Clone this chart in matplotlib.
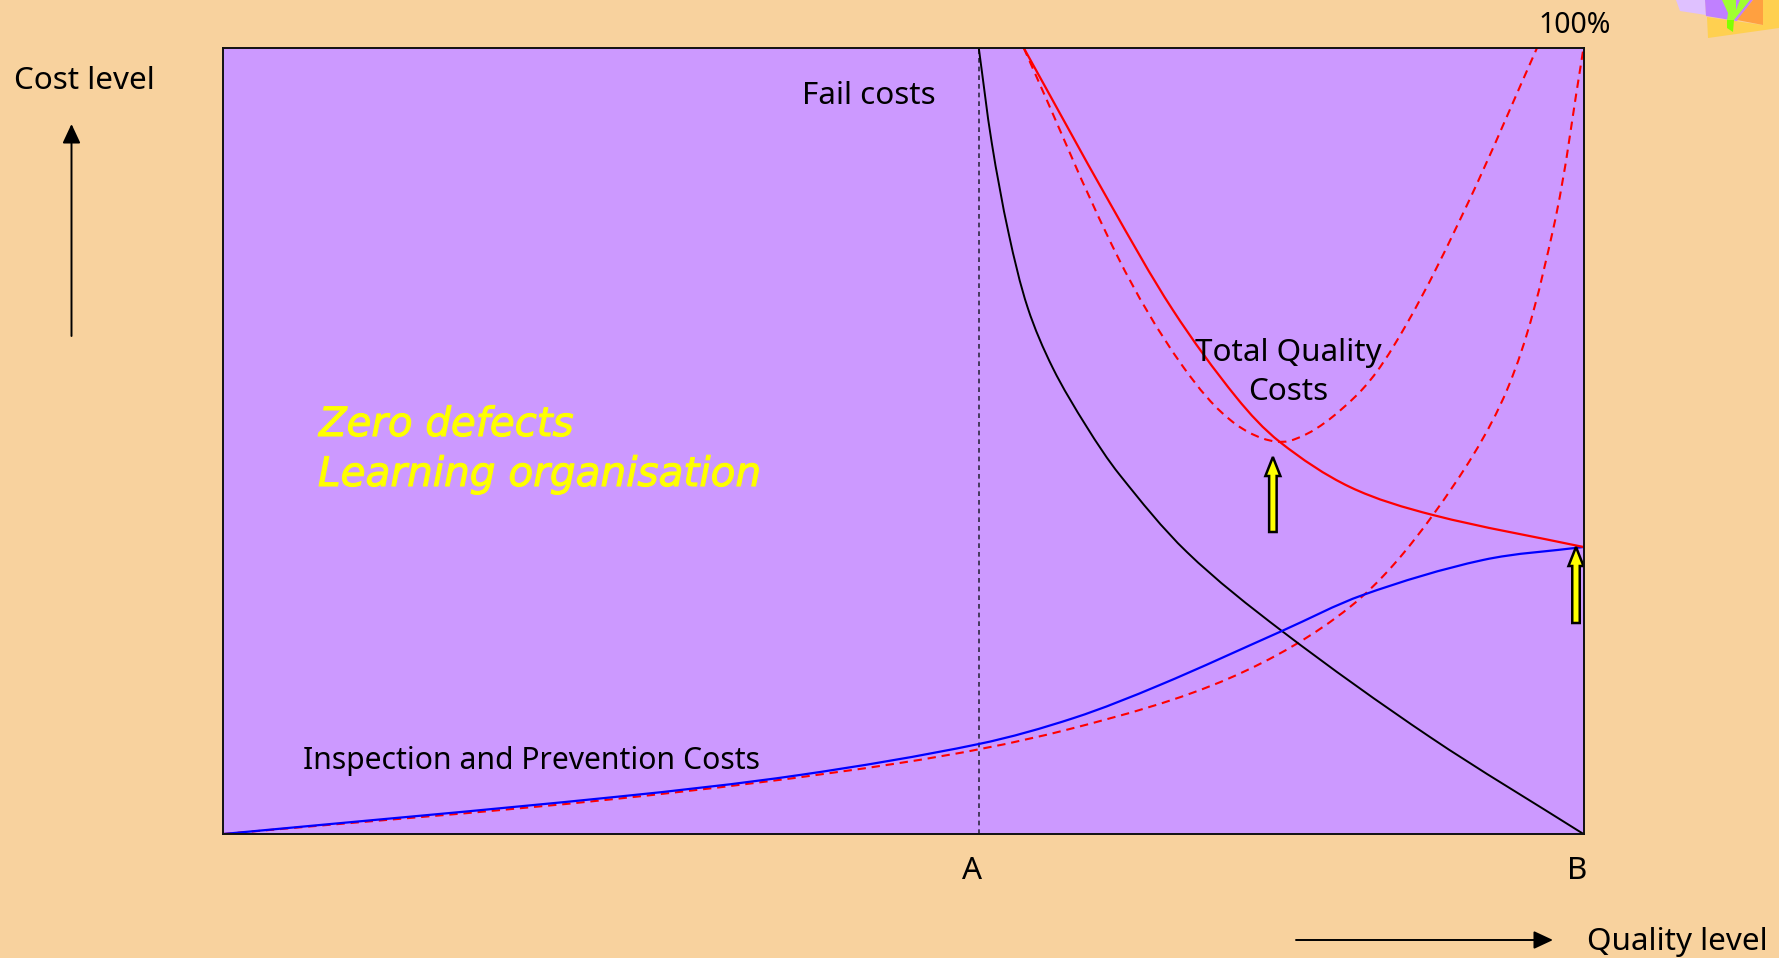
import numpy as np
import matplotlib
matplotlib.use("Agg")
import matplotlib.pyplot as plt
import matplotlib.patheffects as pe
from matplotlib.path import Path
from matplotlib.patches import PathPatch, FancyArrow, Polygon

plt.rcParams["font.family"] = ["Noto Sans", "DejaVu Sans"]

PAGE = "#F8D29E"
PLOT = "#CC99FF"

# Cost curves: quality level on x, cost level on y (arbitrary units)
fail_x = [755, 768, 785, 804, 829, 863, 896, 963, 1058, 1206, 1359.5]
fail_y = [786, 691, 600, 526, 466, 407, 359, 282, 203, 97, 0]

total_x = [800, 886, 949, 1013, 1056, 1126, 1209, 1359.5]
total_y = [786, 631, 524, 436, 392, 347, 319, 287]

old_total_x = [800, 894, 958, 1013, 1065, 1133, 1181, 1244, 1313]
old_total_y = [786, 577, 469, 409, 393, 439, 507, 631, 786]

old_inspection_x = [0, 391, 676, 846, 1006, 1126, 1209, 1283, 1329, 1359.5]
old_inspection_y = [0, 35, 71, 105, 156, 227, 319, 444, 604, 786]

inspection_x = [0, 391, 576, 755, 850, 936, 1058, 1139, 1259, 1359.5]
inspection_y = [0, 37, 59, 90, 116, 149, 203, 239, 274, 287]

marker_a = 755
x_max = 1359.5
y_max = 786

# Upward shift arrows: x, start y, tip y
shift_arrows = [(1049, 302, 377), (1352, 211, 287)]


def smooth_path(xs, ys):
    """Bezier path running through every point, with chord-length tangents."""
    p = np.column_stack([xs, ys]).astype(float)
    d = np.hypot(*np.diff(p, axis=0).T)
    t = np.concatenate([[0], np.cumsum(d)])
    m = np.zeros_like(p)
    m[1:-1] = (p[2:] - p[:-2]) / (t[2:] - t[:-2])[:, None]
    m[0] = (p[1] - p[0]) / d[0]
    m[-1] = (p[-1] - p[-2]) / d[-1]
    verts = [p[0]]
    codes = [Path.MOVETO]
    for i in range(len(p) - 1):
        verts += [p[i] + m[i] * d[i] / 3, p[i + 1] - m[i + 1] * d[i] / 3, p[i + 1]]
        codes += [Path.CURVE4] * 3
    return Path(verts, codes)


W, H = 1779, 958
fig = plt.figure(figsize=(W / 100, H / 100), dpi=100, facecolor=PAGE)
ax = fig.add_axes([223.5 / W, 1 - 834 / H, 1360 / W, 786 / H], facecolor=PLOT)
ax.set_xlim(0, x_max)
ax.set_ylim(0, y_max)
ax.set_xticks([])
ax.set_yticks([])
for s in ax.spines.values():
    s.set_linewidth(1.4)
    s.set_color("#111111")
    s.set_zorder(6)

ax.plot([marker_a, marker_a], [0, y_max], color="#3a3050", lw=1.3,
        linestyle=(0, (2.6, 2.2)), zorder=2)


def curve(xs, ys, color, lw, ls="-", z=3):
    ax.add_patch(PathPatch(smooth_path(xs, ys), fill=False, edgecolor=color, lw=lw,
                           linestyle=ls, capstyle="butt", zorder=z))


dash = (0, (4.0, 2.8))
curve(old_total_x, old_total_y, "#FF0000", 1.5, dash)
curve(old_inspection_x, old_inspection_y, "#FF0000", 1.5, dash)
curve(fail_x, fail_y, "#000000", 1.4)
curve(inspection_x, inspection_y, "#0000FF", 1.6, z=4)
curve(total_x, total_y, "#FF0000", 1.6, z=4)

for x, y0, y1 in shift_arrows:
    ax.add_patch(FancyArrow(x, y0, 0, y1 - y0, width=7.5, head_width=15, head_length=19,
                            length_includes_head=True, facecolor="#FFFF00",
                            edgecolor="#000000", lw=1.8, zorder=5))

# Page-level overlay in pixel units for labels, axis arrows and the emblem
ov = fig.add_axes([0, 0, 1, 1], facecolor="none")
ov.set_xlim(0, W)
ov.set_ylim(H, 0)
ov.axis("off")

FS = 22.6
ov.text(14, 89, "Cost level", fontsize=FS, color="#000000")
ov.text(1538, 33, "100%", fontsize=20.5, color="#000000")
ov.text(802, 104, "Fail costs", fontsize=FS, color="#000000")
ov.text(1288, 361, "Total Quality", fontsize=FS, color="#000000", ha="center")
ov.text(1288, 400, "Costs", fontsize=FS, color="#000000", ha="center")
ov.text(303, 769, "Inspection and Prevention Costs", fontsize=21.7, color="#000000")
ov.text(972, 879, "A", fontsize=FS, color="#000000", ha="center")
ov.text(1577, 879, "B", fontsize=FS, color="#000000", ha="center")
ov.text(1587, 950, "Quality level", fontsize=FS, color="#000000")
heavier = [pe.withStroke(linewidth=0.8, foreground="#FFFF00")]
ov.text(319, 436, "Zero defects", fontsize=29, color="#FFFF00", style="oblique",
        family="DejaVu Sans", path_effects=heavier)
ov.text(318, 486, "Learning organisation", fontsize=29.2, color="#FFFF00", style="oblique",
        family="DejaVu Sans", path_effects=heavier)

arrow_style = dict(arrowstyle="-|>,head_length=0.9,head_width=0.42", color="#000000",
                   lw=1.4, shrinkA=0, shrinkB=0, mutation_scale=13)
ov.annotate("", xy=(71.5, 124), xytext=(71.5, 336), arrowprops=arrow_style)
ov.annotate("", xy=(1553, 940), xytext=(1296, 940), arrowprops=arrow_style)

# Corner emblem
emblem = [
    ("#DFC1FF", [(1676, 0), (1680, 11), (1706, 15), (1705, 0)]),
    ("#FFD050", [(1707, 17), (1708, 38), (1779, 28), (1779, 0), (1763, 0), (1763, 25)]),
    ("#C080FF", [(1705, 0), (1706, 16), (1737, 21), (1753, 0)]),
    ("#FFA040", [(1753, 0), (1737, 20), (1763, 25), (1763, 0)]),
    ("#A0FF30", [(1722, 0), (1728, 13), (1727, 20), (1734, 20), (1750, 0), (1740, 0),
                 (1736, 10), (1736, 0)]),
    ("#80FF00", [(1727, 20), (1727, 28), (1733, 32), (1734, 20)]),
]
for color, pts in emblem:
    ov.add_patch(Polygon(pts, closed=True, facecolor=color, edgecolor="none"))

fig.savefig("out.png", dpi=100, facecolor=PAGE)
